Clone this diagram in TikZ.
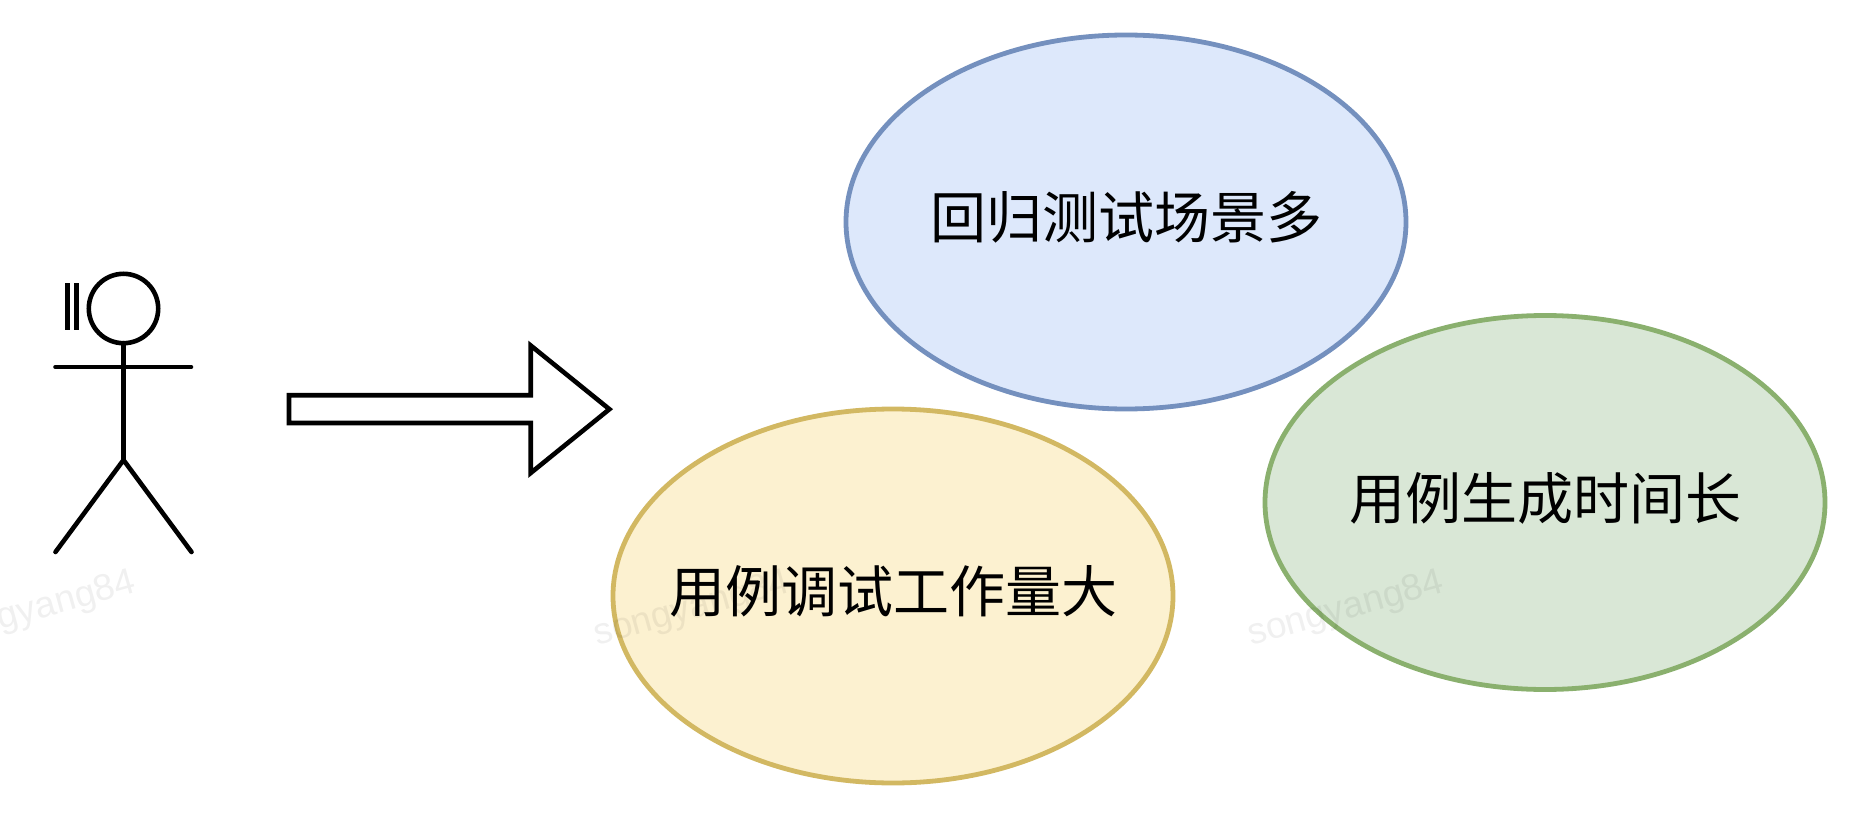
\documentclass[tikz,border=0pt]{standalone}
\usepackage{fontspec}
\newfontfamily\cjk{Noto Sans CJK SC}
\newfontfamily\markfont{Liberation Sans}
\usepackage{tikz}
\usetikzlibrary{positioning, shapes.geometric}

\definecolor{blueFill}{HTML}{DDE8FB}
\definecolor{blueLine}{HTML}{7490BE}
\definecolor{greenFill}{HTML}{D9E7D6}
\definecolor{greenLine}{HTML}{8AB06E}
\definecolor{yellowFill}{HTML}{FCF1D0}
\definecolor{yellowLine}{HTML}{D2B862}

\begin{document}
\begin{tikzpicture}[
  x=0.5pt, y=-0.5pt,
  bubble/.style = {ellipse, draw, line width=2.4pt, minimum width=280pt, minimum height=187pt, inner xsep=-30pt, inner ysep=0pt, outer sep=0pt, text height=23pt, text depth=6.5pt, font=\cjk\fontsize{28}{34}\selectfont},
  figure/.style = {line width=2.3pt, line cap=round},
  stamp/.style = {rotate=15.5, text=black, opacity=0.06, font=\markfont\fontsize{18.5}{22}\selectfont}
]
  \useasboundingbox (0,0) rectangle (1854,824);

  % Actor
  \node[circle, draw, line width=2.3pt, minimum size=34.7pt, inner sep=0pt, outer sep=0pt] (head) at (123.5,308.5) {};
  \coordinate (hip) at (123.5,460);
  \coordinate (arm_l) at (55.5,367);
  \coordinate (arm_r) at (191,367);
  \coordinate (foot_l) at (55.5,552);
  \coordinate (foot_r) at (191.5,552);
  \draw[figure] (head.south) -- (hip);
  \draw[figure] (arm_l) -- (arm_r);
  \draw[figure] (foot_l) -- (hip) -- (foot_r);

  % Bars beside the head
  \draw[line width=2.4pt] (67.5,283.3) -- (67.5,330);
  \draw[line width=2.4pt] (76.8,283.3) -- (76.8,330);

  % Big arrow
  \draw[line width=2.3pt] (289,395.2) -- (530.7,395.2) -- (530.7,345.5) -- (609.4,409.2) -- (530.7,473) -- (530.7,423) -- (289,423) -- cycle;

  % Problems
  \node[bubble, fill=blueFill, draw=blueLine] (scene) at (1126,222) {回归测试场景多\hspace{2pt}};
  \node[bubble, fill=greenFill, draw=greenLine] (gen) at (1545,502.5) {用例生成时间长\hspace{2pt}};
  \node[bubble, fill=yellowFill, draw=yellowLine] (debug) at (893,596) {用例调试工作量大\hspace{2pt}};

  % Stamps
  \node[stamp] (stamp_a) at (38,610) {songyang84};
  \node[stamp] (stamp_b) at (692,610) {songyang84};
  \node[stamp] (stamp_c) at (1346,610) {songyang84};

\end{tikzpicture}
\end{document}
